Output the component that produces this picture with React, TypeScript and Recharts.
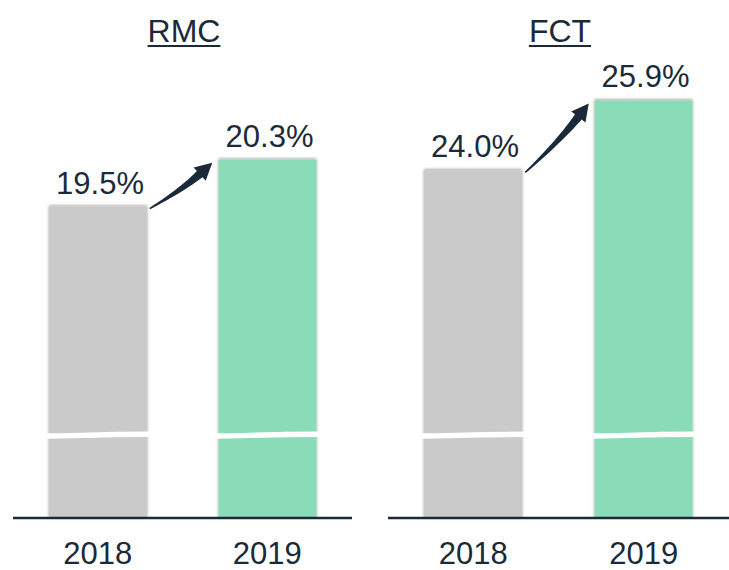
import { BarChart, Bar, XAxis, YAxis, Cell, LabelList, ReferenceLine } from 'recharts';

const years = ['2018', '2019'];
const rmcValues = [19.5, 20.3];
const fctValues = [24.0, 25.9];
const barColors = ['#CACACA', '#8ADBB7'];

const INK = '#1B2A38';
const FONT = '"Liberation Sans", Arial, sans-serif';
const BAR = 98;
const BREAK_GAP = 83;

const rmcData = years.map((year, i) => ({ year, value: rmcValues[i] }));
const fctData = years.map((year, i) => ({ year, value: fctValues[i] }));

function BrokenBar(props: any) {
  const { x, y, width, height, fill, filterId } = props;
  if (width == null || height == null) return null;
  const by = y + height - BREAK_GAP;
  return (
    <g>
      <rect x={x} y={y} width={width} height={height} fill={fill} filter={`url(#${filterId})`} />
      <path
        d={`M ${x - 4} ${by + 1} C ${x + width * 0.3} ${by + 1}, ${x + width * 0.4} ${by - 0.5}, ${x + width + 4} ${by - 0.7}`}
        stroke="#fff"
        strokeWidth={5.5}
        fill="none"
      />
    </g>
  );
}

function Arrow(props: any) {
  const { x1, y1, x2, y2 } = props;
  if ([x1, y1, x2, y2].some((v) => typeof v !== 'number' || isNaN(v))) return null;
  const sx = x1 + BAR / 2 + 3;
  const sy = y1 + 2;
  const ex = x2 - BAR / 2 - 6;
  const ey = y2 + 3;
  const dx = ex - sx;
  const dy = ey - sy;
  const len = Math.hypot(dx, dy);
  const px = -dy / len;
  const py = dx / len;
  const cx = (sx + ex) / 2 + px * 4;
  const cy = (sy + ey) / 2 + py * 4;
  let tx = ex - cx;
  let ty = ey - cy;
  const tl = Math.hypot(tx, ty);
  tx /= tl;
  ty /= tl;
  const headLen = 17;
  const bx = ex - tx * headLen;
  const bY = ey - ty * headLen;
  const left: string[] = [];
  const right: string[] = [];
  const n = 16;
  for (let i = 0; i <= n; i++) {
    const t = i / n;
    const qx = (1 - t) * (1 - t) * sx + 2 * (1 - t) * t * cx + t * t * bx;
    const qy = (1 - t) * (1 - t) * sy + 2 * (1 - t) * t * cy + t * t * bY;
    const gx = 2 * (1 - t) * (cx - sx) + 2 * t * (bx - cx);
    const gy = 2 * (1 - t) * (cy - sy) + 2 * t * (bY - cy);
    const gl = Math.hypot(gx, gy);
    const nx = -gy / gl;
    const ny = gx / gl;
    const w = 0.8 + 3.4 * t;
    left.push(`${qx + nx * w} ${qy + ny * w}`);
    right.push(`${qx - nx * w} ${qy - ny * w}`);
  }
  const hnx = -ty;
  const hny = tx;
  const d =
    `M ${left.join(' L ')} ` +
    `L ${bx + hnx * 9} ${bY + hny * 9} L ${ex} ${ey} L ${bx - hnx * 9} ${bY - hny * 9} ` +
    `L ${right.reverse().join(' L ')} Z`;
  return <path d={d} fill={INK} />;
}

function ValueLabel(props: any) {
  const { x, y, width, value } = props;
  return (
    <text x={x + width / 2 + 2} y={y - 13} textAnchor="middle" fontSize={31} fontFamily={FONT} fill={INK}>
      {`${Number(value).toFixed(1)}%`}
    </text>
  );
}

interface PanelProps {
  id: string;
  data: Array<{ year: string; value: number }>;
  domain: [number, number];
  left: number;
  width: number;
  margin: { top: number; left: number; right: number; bottom: number };
}

function Panel({ id, data, domain, left, width, margin }: PanelProps) {
  const filterId = `shadow-${id}`;
  return (
    <div style={{ position: 'absolute', left, top: 0 }}>
      <BarChart width={width} height={570} data={data} margin={margin} barCategoryGap={0}>
        <defs>
          <filter id={filterId} x="-10%" y="-5%" width="120%" height="110%">
            <feDropShadow dx="0" dy="-1" stdDeviation="1.4" floodColor="#000" floodOpacity="0.4" />
          </filter>
        </defs>
        <XAxis
          dataKey="year"
          height={52}
          tickLine={false}
          tickSize={0}
          tickMargin={24}
          axisLine={{ stroke: INK, strokeWidth: 2.5 }}
          tick={{ fill: INK, fontSize: 31, fontFamily: FONT }}
          padding={{ left: 0, right: 0 }}
        />
        <YAxis hide type="number" domain={domain} allowDataOverflow />
        <Bar
          dataKey="value"
          barSize={BAR}
          isAnimationActive={false}
          shape={(p: any) => <BrokenBar {...p} filterId={filterId} />}
        >
          {data.map((d, i) => (
            <Cell key={d.year} fill={barColors[i]} />
          ))}
          <LabelList dataKey="value" content={ValueLabel} />
        </Bar>
        <ReferenceLine
          segment={[
            { x: data[0].year, y: data[0].value },
            { x: data[1].year, y: data[1].value },
          ]}
          ifOverflow="visible"
          shape={Arrow}
        />
      </BarChart>
    </div>
  );
}

function Title({ text, center }: { text: string; center: number }) {
  return (
    <div
      style={{
        position: 'absolute',
        left: center - 80,
        width: 160,
        top: 15,
        textAlign: 'center',
        fontFamily: FONT,
        fontSize: 32,
        lineHeight: '32px',
        color: INK,
        textDecoration: 'underline',
        textDecorationThickness: '2px',
        textUnderlineOffset: '3px',
      }}
    >
      {text}
    </div>
  );
}

export default function App() {
  return (
    <div style={{ position: 'absolute', left: 0, top: 0, width: 729, height: 570, background: '#fff', overflow: 'hidden' }}>
      <Panel
        id="rmc"
        data={rmcData}
        domain={[14.19, 22]}
        left={0}
        width={365}
        margin={{ top: 60, left: 13, right: 13, bottom: 0 }}
      />
      <Panel
        id="fct"
        data={fctData}
        domain={[14.55, 27]}
        left={365}
        width={364}
        margin={{ top: 60, left: 23, right: 0, bottom: 0 }}
      />
      <Title text="RMC" center={184} />
      <Title text="FCT" center={560} />
    </div>
  );
}
